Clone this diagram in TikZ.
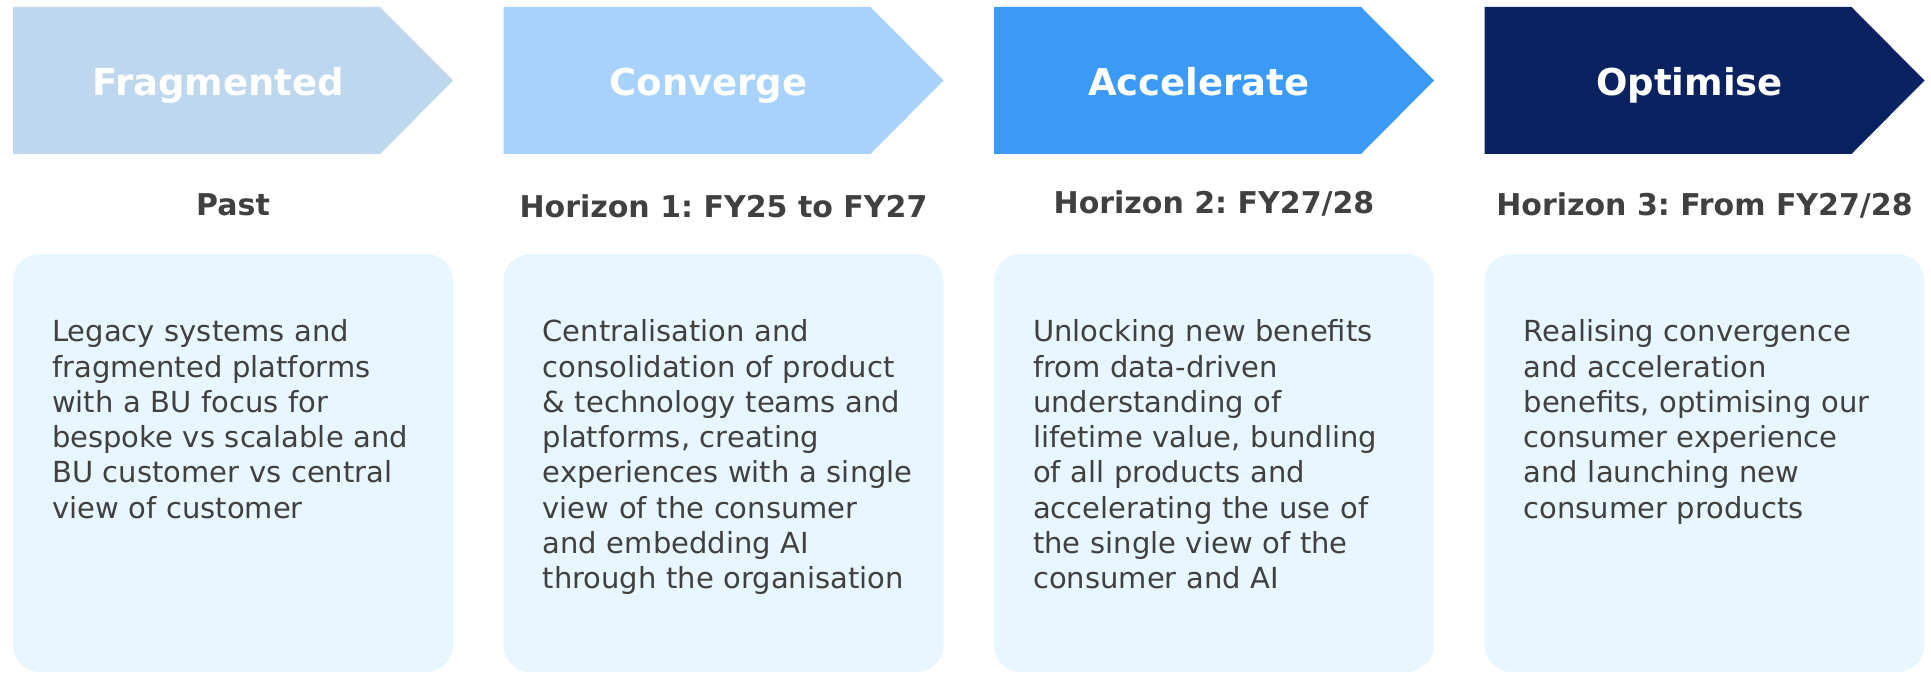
\documentclass[tikz,border=0pt]{standalone}
\usepackage{fontspec}
\setmainfont{DejaVu Sans}
\definecolor{fragblue}{HTML}{BDD7EE}
\definecolor{convblue}{HTML}{A6D2FB}
\definecolor{accblue}{HTML}{3A9AF5}
\definecolor{optnavy}{HTML}{0B2260}
\definecolor{panelblue}{HTML}{E8F6FF}
\definecolor{bodygrey}{HTML}{404040}
\frenchspacing
\tikzset{
  phase/.style={font=\bfseries\fontsize{37}{40}\selectfont, text=white, anchor=base},
  horizon/.style={font=\bfseries\fontsize{30}{36}\selectfont, text=bodygrey, anchor=base},
  paneltext/.style={font=\fontsize{29}{35.3}\selectfont, text=bodygrey, text width=410pt,
    align=left, anchor=base west, inner sep=0pt},
}
\begin{document}
\begin{tikzpicture}[x=1pt,y=-1pt]
        \useasboundingbox (0,0) rectangle (1931,674);
        % chevrons, horizon titles and panels
        \foreach \i/\col/\phase/\when/\wy in {0/fragblue/Fragmented/Past/215,
            1/convblue/Converge/{Horizon 1: FY25 to FY27}/217,
            2/accblue/Accelerate/{Horizon 2: FY27/28}/213,
            3/optnavy/Optimise/{Horizon 3: From FY27/28}/215} {
            \pgfmathsetmacro{\xl}{13+490.5*\i}
            \fill[\col] (\xl,7) -- ++(367,0) -- ++(73,73.5) -- ++(-73,73.5) -- ++(-367,0) -- cycle;
            \node[phase] (phase\i) at (\xl+205,96) {\phase};
            \node[horizon] (when\i) at (\xl+220,\wy) {\when};
            \fill[panelblue, rounded corners=27pt] (\xl,254) rectangle ++(440,418);
        }
        % panel texts
        \foreach \i/\body in {0/{Legacy systems and\\fragmented platforms\\with a BU focus for\\bespoke vs scalable and\\BU customer vs central\\view of customer},
            1/{Centralisation and\\consolidation of product\\\& technology teams and\\platforms, creating\\experiences with a single\\view of the consumer\\and embedding AI\\through the organisation},
            2/{Unlocking new benefits\\from data-driven\\understanding of\\lifetime value, bundling\\of all products and\\accelerating the use of\\the single view of the\\consumer and AI},
            3/{Realising convergence\\and acceleration\\benefits, optimising our\\consumer experience\\and launching new\\consumer products}} {
            \node[paneltext] (panel\i) at (52+490.5*\i,341.7) {\body};
        }
    \end{tikzpicture}
\end{document}
